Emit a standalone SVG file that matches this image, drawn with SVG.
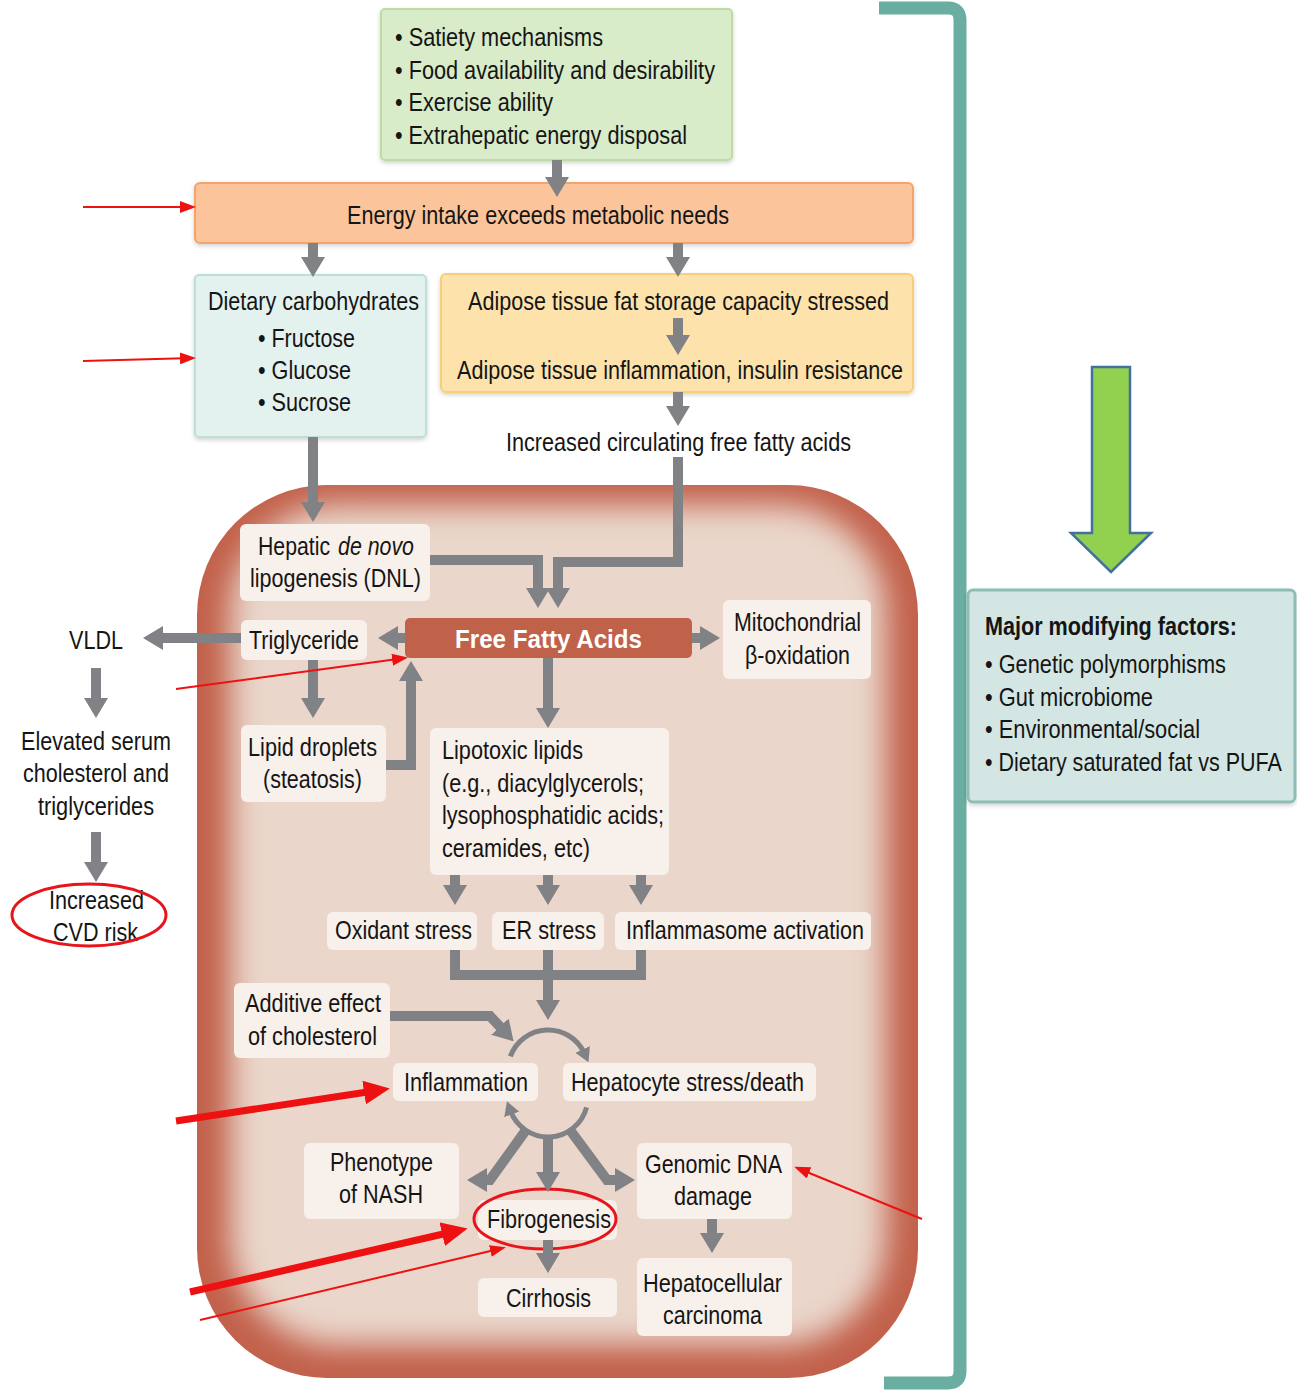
<svg xmlns="http://www.w3.org/2000/svg" width="1297" height="1393" viewBox="0 0 1297 1393">
<style>
.t{font-family:"Liberation Sans",Arial,sans-serif;font-size:25px;fill:#151515}
.b{font-weight:bold}
.w{fill:#ffffff}
.i{font-style:italic}
.box{fill:#f8f0ea}
.g{fill:none;stroke:#808285;stroke-width:10;stroke-linejoin:miter}
.gt{fill:none;stroke:#808285;stroke-width:5}
.rs{fill:none;stroke:#ee1111;stroke-width:2}
.rl{fill:none;stroke:#ee1111;stroke-width:7}
.ring{fill:none;stroke:#e8141c;stroke-width:3}
</style>
<defs>
<marker id="ah" markerUnits="userSpaceOnUse" markerWidth="20" markerHeight="24" viewBox="0 0 20 24" refX="6" refY="12" orient="auto"><path d="M0 0L20 12L0 24Z" fill="#808285"/></marker>
<marker id="ahs" markerUnits="userSpaceOnUse" markerWidth="14" markerHeight="16" viewBox="0 0 14 16" refX="4" refY="8" orient="auto"><path d="M0 0L14 8L0 16Z" fill="#808285"/></marker>
<marker id="rs" markerUnits="userSpaceOnUse" markerWidth="16" markerHeight="12" viewBox="0 0 16 12" refX="13" refY="6" orient="auto"><path d="M0 0L16 6L0 12Z" fill="#ee1111"/></marker>
<marker id="rl" markerUnits="userSpaceOnUse" markerWidth="26" markerHeight="24" viewBox="0 0 26 24" refX="10" refY="12" orient="auto"><path d="M0 0L26 12L0 24Z" fill="#ee1111"/></marker>
<clipPath id="liverclip"><rect x="197" y="485" width="721" height="893" rx="130"/></clipPath>
<filter id="blur" x="-20%" y="-20%" width="140%" height="140%"><feGaussianBlur stdDeviation="15"/></filter>
<filter id="sh" x="-10%" y="-10%" width="120%" height="130%"><feDropShadow dx="0" dy="2" stdDeviation="2" flood-color="#000" flood-opacity="0.18"/></filter>
</defs>

<!-- bracket -->
<path d="M879 8H948Q960 8 960 20V1371Q960 1383 948 1383H884" fill="none" stroke="#6aaea2" stroke-width="13"/>

<!-- liver background -->
<g id="liver" clip-path="url(#liverclip)">
<rect x="197" y="485" width="721" height="893" fill="#c2614b"/>
<rect x="230" y="505" width="656" height="840" rx="108" fill="#ead6ca" filter="url(#blur)"/>
</g>

<g id="factors">
<rect x="381" y="9" width="351" height="151" rx="4" fill="#d9ecc9" stroke="#bddca4" stroke-width="2" filter="url(#sh)"/>
<text class="t" x="395" y="46" textLength="208" lengthAdjust="spacingAndGlyphs">• Satiety mechanisms</text>
<text class="t" x="395" y="79" textLength="320" lengthAdjust="spacingAndGlyphs">• Food availability and desirability</text>
<text class="t" x="395" y="111" textLength="158" lengthAdjust="spacingAndGlyphs">• Exercise ability</text>
<text class="t" x="395" y="144" textLength="292" lengthAdjust="spacingAndGlyphs">• Extrahepatic energy disposal</text>
</g>

<g id="energy">
<rect x="195" y="183" width="718" height="60" rx="5" fill="#fbc49a" stroke="#f4a469" stroke-width="2" filter="url(#sh)"/>
<text class="t" x="347" y="224" textLength="382" lengthAdjust="spacingAndGlyphs">Energy intake exceeds metabolic needs</text>
</g>

<g id="carbs">
<rect x="195" y="275" width="231" height="162" rx="4" fill="#e4f2ef" stroke="#bcdfd8" stroke-width="2" filter="url(#sh)"/>
<text class="t" x="208" y="310" textLength="211" lengthAdjust="spacingAndGlyphs">Dietary carbohydrates</text>
<text class="t" x="258" y="347" textLength="97" lengthAdjust="spacingAndGlyphs">• Fructose</text>
<text class="t" x="258" y="379" textLength="93" lengthAdjust="spacingAndGlyphs">• Glucose</text>
<text class="t" x="258" y="411" textLength="93" lengthAdjust="spacingAndGlyphs">• Sucrose</text>
</g>

<g id="adipose">
<rect x="441" y="274" width="472" height="118" rx="5" fill="#fde3ab" stroke="#f8cf78" stroke-width="2" filter="url(#sh)"/>
<text class="t" x="468" y="310" textLength="421" lengthAdjust="spacingAndGlyphs">Adipose tissue fat storage capacity stressed</text>
<text class="t" x="457" y="379" textLength="446" lengthAdjust="spacingAndGlyphs">Adipose tissue inflammation, insulin resistance</text>
</g>

<g id="circulating">
<text class="t" x="506" y="451" textLength="345" lengthAdjust="spacingAndGlyphs">Increased circulating free fatty acids</text>
</g>

<g id="dnl">
<rect class="box" x="240" y="524" width="190" height="77" rx="6"/>
<text class="t" x="258" y="555" textLength="72" lengthAdjust="spacingAndGlyphs">Hepatic</text>
<text class="t i" x="338" y="555" textLength="76" lengthAdjust="spacingAndGlyphs">de novo</text>
<text class="t" x="250" y="587" textLength="171" lengthAdjust="spacingAndGlyphs">lipogenesis (DNL)</text>
</g>

<g id="ffa">
<rect x="405" y="618" width="287" height="40" rx="5" fill="#c0614a"/>
<text class="t b w" x="455" y="648" font-size="27" textLength="187" lengthAdjust="spacingAndGlyphs">Free Fatty Acids</text>
</g>

<g id="triglyceride">
<rect class="box" x="241" y="620" width="126" height="40" rx="6"/>
<text class="t" x="249" y="649" textLength="110" lengthAdjust="spacingAndGlyphs">Triglyceride</text>
</g>

<g id="mito">
<rect class="box" x="723" y="600" width="148" height="79" rx="6"/>
<text class="t" x="734" y="631" textLength="127" lengthAdjust="spacingAndGlyphs">Mitochondrial</text>
<text class="t" x="745" y="664" textLength="105" lengthAdjust="spacingAndGlyphs">β-oxidation</text>
</g>

<g id="vldl">
<text class="t" x="69" y="649" textLength="54" lengthAdjust="spacingAndGlyphs">VLDL</text>
</g>

<g id="droplets">
<rect class="box" x="241" y="725" width="145" height="77" rx="6"/>
<text class="t" x="248" y="756" textLength="129" lengthAdjust="spacingAndGlyphs">Lipid droplets</text>
<text class="t" x="263" y="788" textLength="99" lengthAdjust="spacingAndGlyphs">(steatosis)</text>
</g>

<g id="lipotoxic">
<rect class="box" x="430" y="728" width="239" height="147" rx="6"/>
<text class="t" x="442" y="759" textLength="141" lengthAdjust="spacingAndGlyphs">Lipotoxic lipids</text>
<text class="t" x="442" y="792" textLength="202" lengthAdjust="spacingAndGlyphs">(e.g., diacylglycerols;</text>
<text class="t" x="442" y="824" textLength="222" lengthAdjust="spacingAndGlyphs">lysophosphatidic acids;</text>
<text class="t" x="442" y="857" textLength="148" lengthAdjust="spacingAndGlyphs">ceramides, etc)</text>
</g>

<g id="elevated">
<text class="t" x="21" y="750" textLength="150" lengthAdjust="spacingAndGlyphs">Elevated serum</text>
<text class="t" x="23" y="782" textLength="146" lengthAdjust="spacingAndGlyphs">cholesterol and</text>
<text class="t" x="38" y="815" textLength="116" lengthAdjust="spacingAndGlyphs">triglycerides</text>
</g>

<g id="cvd">
<text class="t" x="49" y="909" textLength="95" lengthAdjust="spacingAndGlyphs">Increased</text>
<text class="t" x="53" y="941" textLength="85" lengthAdjust="spacingAndGlyphs">CVD risk</text>
<ellipse class="ring" cx="89" cy="915" rx="77" ry="31"/>
</g>

<g id="oxidant">
<rect class="box" x="327" y="912" width="150" height="38" rx="6"/>
<text class="t" x="335" y="939" textLength="137" lengthAdjust="spacingAndGlyphs">Oxidant stress</text>
</g>
<g id="er">
<rect class="box" x="492" y="912" width="112" height="38" rx="6"/>
<text class="t" x="502" y="939" textLength="94" lengthAdjust="spacingAndGlyphs">ER stress</text>
</g>
<g id="inflammasome">
<rect class="box" x="615" y="912" width="256" height="38" rx="6"/>
<text class="t" x="626" y="939" textLength="238" lengthAdjust="spacingAndGlyphs">Inflammasome activation</text>
</g>

<g id="additive">
<rect class="box" x="234" y="983" width="156" height="75" rx="6"/>
<text class="t" x="245" y="1012" textLength="136" lengthAdjust="spacingAndGlyphs">Additive effect</text>
<text class="t" x="248" y="1045" textLength="129" lengthAdjust="spacingAndGlyphs">of cholesterol</text>
</g>

<g id="inflammation">
<rect class="box" x="393" y="1063" width="145" height="38" rx="6"/>
<text class="t" x="404" y="1091" textLength="124" lengthAdjust="spacingAndGlyphs">Inflammation</text>
</g>
<g id="hepatocyte">
<rect class="box" x="563" y="1063" width="253" height="38" rx="6"/>
<text class="t" x="571" y="1091" textLength="233" lengthAdjust="spacingAndGlyphs">Hepatocyte stress/death</text>
</g>

<g id="nash">
<rect class="box" x="304" y="1143" width="155" height="76" rx="6"/>
<text class="t" x="330" y="1171" textLength="103" lengthAdjust="spacingAndGlyphs">Phenotype</text>
<text class="t" x="339" y="1203" textLength="84" lengthAdjust="spacingAndGlyphs">of NASH</text>
</g>

<g id="genomic">
<rect class="box" x="637" y="1143" width="155" height="76" rx="6"/>
<text class="t" x="645" y="1173" textLength="137" lengthAdjust="spacingAndGlyphs">Genomic DNA</text>
<text class="t" x="674" y="1205" textLength="78" lengthAdjust="spacingAndGlyphs">damage</text>
</g>

<g id="fibrogenesis">
<rect class="box" x="478" y="1200" width="139" height="40" rx="6"/>
<text class="t" x="487" y="1228" textLength="124" lengthAdjust="spacingAndGlyphs">Fibrogenesis</text>
<ellipse class="ring" cx="545" cy="1219" rx="71" ry="30"/>
</g>

<g id="cirrhosis">
<rect class="box" x="478" y="1278" width="139" height="39" rx="6"/>
<text class="t" x="506" y="1307" textLength="85" lengthAdjust="spacingAndGlyphs">Cirrhosis</text>
</g>

<g id="hcc">
<rect class="box" x="637" y="1258" width="155" height="78" rx="6"/>
<text class="t" x="643" y="1292" textLength="139" lengthAdjust="spacingAndGlyphs">Hepatocellular</text>
<text class="t" x="663" y="1324" textLength="99" lengthAdjust="spacingAndGlyphs">carcinoma</text>
</g>

<g id="modifying">
<rect x="968" y="590" width="327" height="212" rx="5" fill="#d4e6e3" stroke="#8dbdb5" stroke-width="3" filter="url(#sh)"/>
<text class="t b" x="985" y="635" textLength="252" lengthAdjust="spacingAndGlyphs">Major modifying factors:</text>
<text class="t" x="985" y="673" textLength="241" lengthAdjust="spacingAndGlyphs">• Genetic polymorphisms</text>
<text class="t" x="985" y="706" textLength="168" lengthAdjust="spacingAndGlyphs">• Gut microbiome</text>
<text class="t" x="985" y="738" textLength="215" lengthAdjust="spacingAndGlyphs">• Environmental/social</text>
<text class="t" transform="translate(985 771) scale(0.861 1)" x="0" y="0">• Dietary saturated fat vs PUFA</text>
</g>

<g id="green-arrow">
<path d="M1092 367H1130V533H1151L1111 572L1071 533H1092Z" fill="#92d050" stroke="#41719c" stroke-width="2.5"/>
</g>

<g id="connectors">
<path class="g" d="M557 160V183" marker-end="url(#ah)"/>
<path class="g" d="M313 243V263" marker-end="url(#ah)"/>
<path class="g" d="M678 243V263" marker-end="url(#ah)"/>
<path class="g" d="M678 318V341" marker-end="url(#ah)"/>
<path class="g" d="M678 392V412" marker-end="url(#ah)"/>
<path class="g" d="M678 457V562H558V594" marker-end="url(#ah)"/>
<path class="g" d="M313 437V508" marker-end="url(#ah)"/>
<path class="g" d="M430 560H538V594" marker-end="url(#ah)"/>
<path class="g" d="M405 638H392" marker-end="url(#ah)"/>
<path class="g" d="M241 638H157" stroke-width="12" marker-end="url(#ah)"/>
<path class="g" d="M692 638H706" marker-end="url(#ah)"/>
<path class="g" d="M313 660V704" marker-end="url(#ah)"/>
<path class="g" d="M386 765H411V675" marker-end="url(#ah)"/>
<path class="g" d="M548 658V714" marker-end="url(#ah)"/>
<path class="g" d="M96 668V704" marker-end="url(#ah)"/>
<path class="g" d="M96 832V868" marker-end="url(#ah)"/>
<path class="g" d="M455 875V891" marker-end="url(#ah)"/>
<path class="g" d="M548 875V891" marker-end="url(#ah)"/>
<path class="g" d="M641 875V891" marker-end="url(#ah)"/>
<path class="g" d="M455 950V975H641V950"/>
<path class="g" d="M548 950V1006" marker-end="url(#ah)"/>
<path class="g" d="M390 1016H490L504 1031" marker-end="url(#ah)"/>
<path class="gt" d="M510.4 1056.3A40 40 0 0 1 584.3 1053.1" marker-end="url(#ahs)"/>
<path class="gt" d="M586.6 1107.4A40 40 0 0 1 510.4 1110.7" marker-end="url(#ahs)"/>
<path class="g" d="M526 1130L490 1180H481" marker-end="url(#ah)"/>
<path class="g" d="M548 1137V1178" marker-end="url(#ah)"/>
<path class="g" d="M570 1130L607 1180H621" marker-end="url(#ah)"/>
<path class="g" d="M548 1240V1259" marker-end="url(#ah)"/>
<path class="g" d="M712 1219V1239" marker-end="url(#ah)"/>
</g>

<g id="annotations">
<path class="rs" d="M83 207H193" marker-end="url(#rs)"/>
<path class="rs" d="M83 361L193 358" marker-end="url(#rs)"/>
<path class="rs" d="M176 689L405 658" marker-end="url(#rs)"/>
<path class="rl" d="M176 1121L374 1091" marker-end="url(#rl)"/>
<path class="rl" d="M190 1292L452 1232" marker-end="url(#rl)"/>
<path class="rs" d="M200 1320L503 1248" marker-end="url(#rs)"/>
<path class="rs" d="M922 1219L797 1168" marker-end="url(#rs)"/>
</g>
</svg>
